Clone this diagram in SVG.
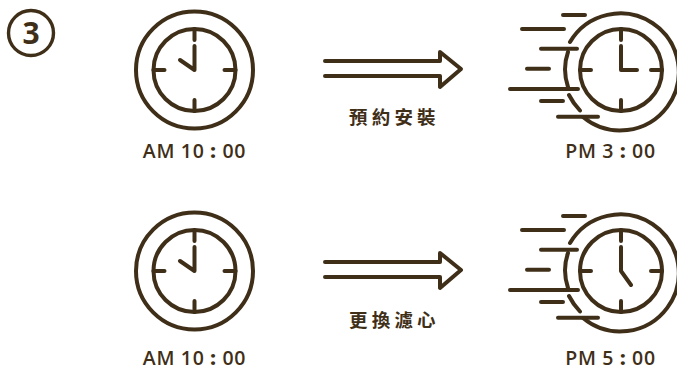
<svg xmlns="http://www.w3.org/2000/svg" xmlns:xlink="http://www.w3.org/1999/xlink" width="677" height="366" viewBox="0 0 677 366">
<style>
.s{fill:none;stroke:#3f2f19;stroke-width:4;stroke-linecap:round;stroke-linejoin:round}
.t{font-family:"Open Sans","Noto Sans",sans-serif;font-size:19.500px;font-weight:600;fill:#3f2f19;letter-spacing:.7px}
.k{font-weight:800}
.c{font-family:"Noto Sans CJK TC","Noto Sans CJK SC",sans-serif;font-size:18.500px;font-weight:700;fill:#3f2f19;letter-spacing:4.200px}
</style>
<defs>
<g id="face" class="s">
<circle r="41"/>
<path d="M0-41V-30M0 41V30M-41 0H-30M41 0H30"/>
</g>
<g id="plain" class="s"><circle r="58.5"/><use xlink:href="#face"/></g>
<g id="fast" class="s">
<path d="M570 42A58.500 58.500 0 1 1 583 117M568 52Q562 69 568 87M569 95Q573 103 580 110.500"/>
<path d="M563 15H585M522 29H564M541 48.700H577M527 68.700H549M510 89H578M541 101H563M558 116.700H598"/>
<use xlink:href="#face" x="621" y="70"/>
</g>
<g id="arrow" class="s"><path d="M325 61H440V52L461 69L440 87V76H325"/></g>
</defs>
<g id="badge">
<circle class="s" cx="31" cy="33" r="22.500" style="stroke-width:3.400"/>
<text x="31" y="44" text-anchor="middle" style="font-family:'Open Sans',sans-serif;font-size:30px;font-weight:700;fill:#3f2f19">3</text>
</g>
<g id="clock-am-1">
<use xlink:href="#plain" x="194.500" y="70"/>
<path class="s" d="M194.500 46V70L180 60"/>
<text class="t" x="194.500" y="158" text-anchor="middle">AM 10 <tspan class="k">:</tspan> 00</text>
</g>
<g id="clock-pm-1">
<use xlink:href="#fast"/>
<path class="s" d="M621 46V70H637"/>
<text class="t" x="610.500" y="158" text-anchor="middle">PM 3 <tspan class="k">:</tspan> 00</text>
</g>
<g id="clock-am-2">
<use xlink:href="#plain" x="194.500" y="271"/>
<path class="s" d="M194.500 247V271L180 261"/>
<text class="t" x="194.500" y="365" text-anchor="middle">AM 10 <tspan class="k">:</tspan> 00</text>
</g>
<g id="clock-pm-2">
<use xlink:href="#fast" y="201"/>
<path class="s" d="M621 247V271L631 285"/>
<text class="t" x="610.500" y="365" text-anchor="middle">PM 5 <tspan class="k">:</tspan> 00</text>
</g>
<g id="connectors">
<use xlink:href="#arrow"/>
<use xlink:href="#arrow" y="201"/>
</g>
<g id="labels">
<text class="c" x="349" y="124">預約安裝</text>
<text class="c" x="349" y="327">更換濾心</text>
</g>
</svg>
